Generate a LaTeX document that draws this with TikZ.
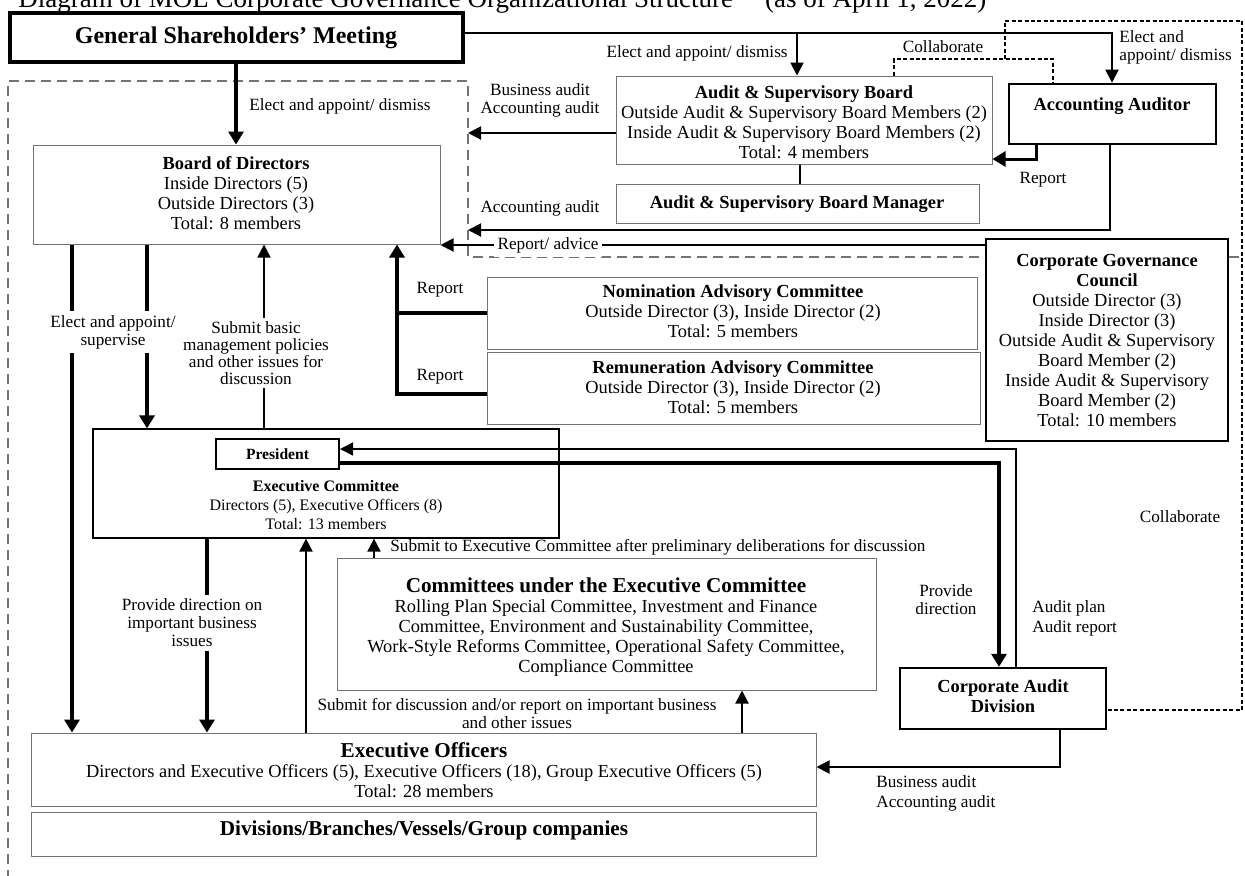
\documentclass[tikz,border=0pt]{standalone}
\usepackage{fontspec}
\setmainfont{Liberation Serif}
\usetikzlibrary{arrows.meta,fit}
\newcommand\bodyf{\fontsize{9.2}{10}\selectfont}
\newcommand\labf{\fontsize{8.6}{9}\selectfont}
\newcommand\bigf{\fontsize{10.6}{11}\selectfont}
\tikzset{
  gbox/.style={draw=black!55, line width=0.5pt, inner sep=0pt},
  kbox/.style={draw=black, inner sep=0pt},
  txt/.style={font=\bodyf, align=center, inner sep=0pt},
  lab/.style={font=\labf, align=center, inner sep=1pt},
  wlab/.style={lab, fill=white, inner sep=2pt},
  med/.style={draw=black, line width=1pt, -{Triangle[length=6.5pt,width=6.5pt]}},
  thk/.style={draw=black, line width=2pt, -{Triangle[length=6.5pt,width=7.5pt]}},
  thkl/.style={draw=black, line width=2pt},
  gdash/.style={draw=black!55, line width=1pt, dash pattern=on 5pt off 3pt},
  kdash/.style={draw=black, line width=0.6pt, dash pattern=on 2pt off 1.2pt},
}
\begin{document}
\begin{tikzpicture}[x=0.5pt,y=-0.5pt]
\useasboundingbox (0,0) rectangle (1245,875);
\clip (0,0) rectangle (1245,875);
\node[anchor=base west, font=\fontsize{13.5}{14}\selectfont, inner sep=0pt] (title) at (18,7) {Diagram of MOL Corporate Governance Organizational Structure\hspace{16pt}(as of April 1, 2022)};

% ---------- boxes ----------
\node[kbox, line width=2pt, fit={(10,13)(463,62)}] (gsm) {};
\node[txt, font=\fontsize{12}{13}\selectfont\bfseries] (gsmt) at (236,38) {General Shareholders’ Meeting};
\node[gbox, fit={(616,76)(992,164)}] (asb) {};
\node[txt] (asbt) at (804,122) {\textbf{Audit \& Supervisory Board}\\Outside Audit \& Supervisory Board Members (2)\\Inside Audit \& Supervisory Board Members (2)\\Total: 4 members};
\node[gbox, fit={(616,184)(979,223)}] (mgr) {};
\node[txt, font=\bodyf\bfseries] (mgrt) at (797,204) {Audit \& Supervisory Board Manager};
\node[kbox, line width=1.3pt, fit={(1009,84)(1216,144)}] (aa) {};
\node[txt, font=\bodyf\bfseries] (aat) at (1112,106) {Accounting Auditor};
\node[gbox, fit={(33,145)(440,244)}] (bod) {};
\node[txt] (bodt) at (236,193) {\textbf{Board of Directors}\\Inside Directors (5)\\Outside Directors (3)\\Total: 8 members};
\node[gbox, fit={(487,277)(977,349)}] (nom) {};
\node[txt] (nomt) at (733,311) {\textbf{Nomination Advisory Committee}\\Outside Director (3), Inside Director (2)\\Total: 5 members};
\node[gbox, fit={(487,352)(980,424)}] (rem) {};
\node[txt] (remt) at (733,387) {\textbf{Remuneration Advisory Committee}\\Outside Director (3), Inside Director (2)\\Total: 5 members};
\node[kbox, line width=1pt, fit={(986,239)(1228,441)}] (cgc) {};
\node[txt] (cgct) at (1107,341) {\textbf{Corporate Governance}\\\textbf{Council}\\Outside Director (3)\\Inside Director (3)\\Outside Audit \& Supervisory\\Board Member (2)\\Inside Audit \& Supervisory\\Board Member (2)\\Total: 10 members};
\node[kbox, line width=0.6pt, fit={(93,429)(559,538)}] (ec) {};
\node[kbox, line width=1pt, fit={(216,439)(339,469)}] (pres) {};
\node[txt, font=\fontsize{7.8}{8}\selectfont\bfseries] (prest) at (277.5,454) {President};
\node[txt, font=\fontsize{8}{9.3}\selectfont] (ect) at (326,505) {\textbf{Executive Committee}\\Directors (5), Executive Officers (8)\\Total: 13 members};
\node[kbox, line width=1.2pt, fit={(900,668)(1106,729)}] (cad) {};
\node[txt, font=\bodyf\bfseries] (cadt) at (1003,696) {Corporate Audit\\Division};
\node[gbox, fit={(337,558)(876,690)}] (com) {};
\node[txt] (comt) at (606,627) {{\bigf\bfseries Committees under the Executive Committee}\\Rolling Plan Special Committee, Investment and Finance\\Committee, Environment and Sustainability Committee,\\Work-Style Reforms Committee, Operational Safety Committee,\\Compliance Committee};
\node[gbox, fit={(31,733)(816,806)}] (eo) {};
\node[txt] (eot) at (424,770) {{\bigf\bfseries Executive Officers}\\Directors and Executive Officers (5), Executive Officers (18), Group Executive Officers (5)\\Total: 28 members};
\node[gbox, fit={(31,812)(816,856)}] (div) {};
\node[txt, font=\bigf\bfseries] (divt) at (424,830) {Divisions/Branches/Vessels/Group companies};

% ---------- gray dashed frame ----------
\coordinate (g5) at (900,257);
\draw[gdash] (8,880) -- (8,81) -- (468,81) -- (468,257) -- (g5 -| cgc.west);
\draw[gdash] (g5 -| cgc.east) -- (1250,257);

% ---------- GSM links ----------
\coordinate (j1) at (797,33);
\coordinate (j2) at (1112,33);
\draw[med] (gsm.east |- j2) -- (j2) -- (j2 |- aa.north);
\draw[med] (j1) -- (j1 |- asb.north);
\node[lab, anchor=east] (l1) at (790,53) {Elect and appoint/ dismiss};
\node[lab, anchor=north west, align=left] (l2) at (1117,28) {Elect and\\appoint/ dismiss};

% ---------- collaborate ----------
\coordinate (c1) at (894,59);
\coordinate (c2) at (1053,59);
\coordinate (c0) at (1005,59);
\draw[kdash] (c1 |- asb.north) -- (c1) -- (c2) -- (c2 |- aa.north);
\node[lab] (l3) at (943,47) {Collaborate};
\coordinate (o1) at (1005,21);
\coordinate (o2) at (1242,21);
\coordinate (o3) at (1242,710);
\draw[kdash] (c0) -- (o1) -- (o2) -- (o3) -- (o3 -| cad.east);
\node[lab] (l4) at (1180,517) {Collaborate};

% ---------- accounting auditor links ----------
\coordinate (r0) at (1036,159);
\draw[thk, line width=1.5pt] (r0 |- aa.south) -- (r0) -- (r0 -| asb.east);
\node[lab] (l5) at (1043,180) {Report};
\coordinate (a1) at (1110,230);
\coordinate (gd) at (468,230);
\draw[med] (a1 |- aa.south) -- (a1) -- (gd);
\node[lab] (l6) at (540,208) {Accounting audit};
\coordinate (b1) at (468,133);
\draw[med] (b1 -| asb.west) -- (b1);
\node[lab] (l7) at (540,100) {Business audit\\Accounting audit};
\draw[thkl, line width=0.8pt] (asb.south -| 800,0) -- (mgr.north -| 800,0);

% ---------- report / advice ----------
\coordinate (ra) at (700,245);
\draw[med] (ra -| cgc.west) -- (ra -| bod.east);
\node[lab, fill=white, inner sep=2pt] (l8) at (548,245) {Report/ advice};

% ---------- GSM -> BoD ----------
\coordinate (k1) at (236,100);
\draw[thk, line width=1.6pt] (k1 |- gsm.south) -- (k1 |- bod.north);
\node[lab, anchor=west] (l9) at (247,106) {Elect and appoint/ dismiss};

% ---------- BoD down ----------
\coordinate (d1) at (72,0);
\coordinate (d2) at (147,0);
\coordinate (d3) at (264,0);
\draw[thk] (d1 |- bod.south) -- (d1 |- eo.north);
\draw[thk] (d2 |- bod.south) -- (d2 |- ec.north);
\node[wlab] (l10) at (113,332) {Elect and appoint/\\supervise};
\draw[med, line width=0.7pt] (d3 |- ec.north) -- (d3 |- bod.south);
\node[wlab, font=\fontsize{8.6}{8.4}\selectfont] (l11) at (256,353) {Submit basic\\management policies\\and other issues for\\discussion};

% ---------- advisory committees report ----------
\coordinate (r1) at (397,313);
\coordinate (r2) at (397,394);
\draw[thk] (r2 -| rem.west) -- (r2) -- (r2 |- bod.south);
\draw[thkl] (r1 -| nom.west) -- (r1);
\node[lab] (l12) at (440,290) {Report};
\node[lab] (l13) at (440,377) {Report};

% ---------- President <-> CAD ----------
\coordinate (p1) at (999,463);
\coordinate (p2) at (1016,449);
\draw[thk] (p1 -| pres.east) -- (p1) -- (p1 |- cad.north);
\draw[med, line width=0.8pt] (p2 |- cad.north) -- (p2) -- (p2 -| pres.east);
\node[lab] (l14) at (946,600) {Provide\\direction};
\node[lab, anchor=west, align=left, font=\fontsize{8.6}{10}\selectfont] (l15) at (1030,618) {Audit plan\\Audit report};

% ---------- EC <-> EO / committees ----------
\coordinate (e1) at (207,0);
\coordinate (e2) at (306,0);
\coordinate (e3) at (374,0);
\coordinate (e4) at (742,0);
\draw[thk] (e1 |- ec.south) -- (e1 |- eo.north);
\node[wlab] (l16) at (192,623) {Provide direction on\\important business\\issues};
\draw[med] (e2 |- eo.north) -- (e2 |- ec.south);
\draw[med] (e3 |- com.north) -- (e3 |- ec.south);
\draw[med] (e4 |- eo.north) -- (e4 |- com.south);
\node[lab, anchor=west] (l17) at (388,547) {Submit to Executive Committee after preliminary deliberations for discussion};
\node[lab] (l18) at (517,714) {Submit for discussion and/or report on important business\\and other issues};

% ---------- CAD -> EO ----------
\coordinate (q1) at (1060,767);
\draw[med] (q1 |- cad.south) -- (q1) -- (q1 -| eo.east);
\node[lab, anchor=north west, align=left, font=\fontsize{8.6}{10}\selectfont] (l19) at (874,773) {Business audit\\Accounting audit};
\end{tikzpicture}
\end{document}
